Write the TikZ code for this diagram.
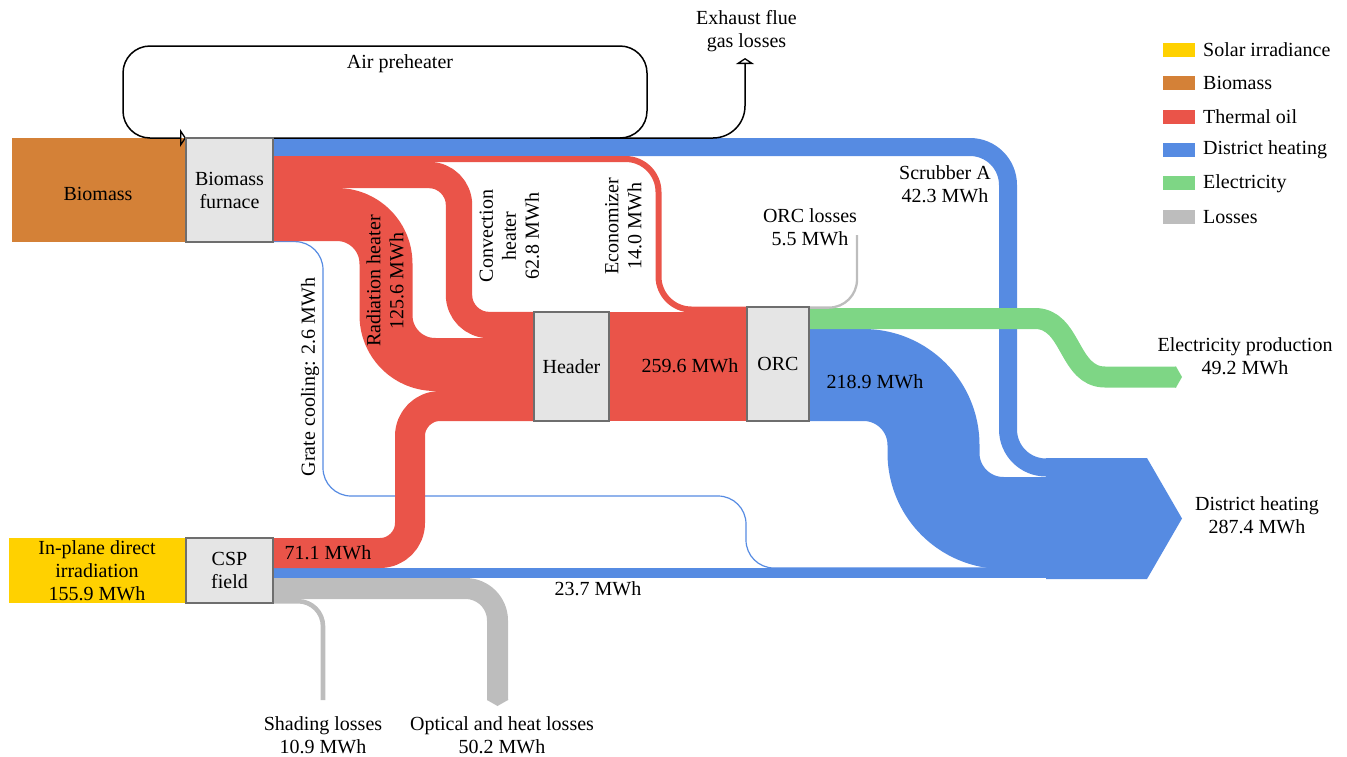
\documentclass[tikz,border=0pt]{standalone}
\usepackage{fontspec}
\setmainfont{Liberation Serif}
\usetikzlibrary{arrows.meta}
\newcommand\lblfont{\rmfamily\fontsize{20}{23}\selectfont}
\definecolor{cSolar}{HTML}{FFD100}
\definecolor{cBio}{HTML}{D48137}
\definecolor{cOil}{HTML}{EA5449}
\definecolor{cDH}{HTML}{568BE2}
\definecolor{cEl}{HTML}{7ED685}
\definecolor{cLoss}{HTML}{BDBDBD}
\definecolor{cBox}{HTML}{E5E5E5}
\definecolor{cBoxLine}{HTML}{6E6E6E}
\begin{document}
\begin{tikzpicture}[x=1pt,y=-1pt,
  every node/.style={font=\lblfont, inner sep=0pt, align=center},
  band/.style={line cap=butt, line join=round},
  procbox/.style={draw=cBoxLine, fill=cBox, line width=1.5pt},
  srcbox/.style={draw=none},
  flue/.style={draw=black, line width=1.5pt},
  opentip/.style={-{Triangle[open, length=6pt, width=18pt, line width=1.3pt]}},
  legsw/.style={minimum width=32pt, minimum height=14pt},
  legtx/.style={anchor=west}]
\useasboundingbox (0,0) rectangle (1347,756);

% ---------- source boxes ----------
\path (99,190) node[srcbox, fill=cBio, minimum width=174pt, minimum height=104pt] (bio) {};
\path (97.5,570.5) node[srcbox, fill=cSolar, minimum width=177pt, minimum height=65pt] (sun) {};

% ---------- named band end points ----------
\coordinate (fScr) at (273,147);    \coordinate (dScr) at (1062,467.5);
\coordinate (fEco) at (273,159);    \coordinate (oEco) at (747,309.5);
\coordinate (fCon) at (273,175);    \coordinate (hCon) at (534,325);
\coordinate (fRad) at (273,214.5);  \coordinate (hRad) at (534,364.5);
\coordinate (fGra) at (273,241.6);  \coordinate (dGra) at (1062,568);
\coordinate (cRed) at (273,553);    \coordinate (hCsp) at (534,406);
\coordinate (cBlu) at (273,573);    \coordinate (dBlu) at (1062,573);
\coordinate (cOpt) at (273,588.5);  \coordinate (eOpt) at (497.5,700);
\coordinate (cSha) at (273,601.2);  \coordinate (eSha) at (323,700);
\coordinate (hOut) at (609,366.5);  \coordinate (oIn) at (747,366.5);
\coordinate (oEl) at (809,318.5);   \coordinate (eEl) at (1176,377);
\coordinate (oDH) at (809,375);     \coordinate (dDH) at (1062,523);
\coordinate (oLos) at (809,307.6);  \coordinate (eLos) at (857,235);
\coordinate (fFlue) at (273,138);   \coordinate (eFlue) at (745,58);
\coordinate (aSplit) at (590,138);  \coordinate (fIn) at (186,138);

% ---------- losses (grey) ----------
\draw[band, cLoss, line width=21pt, rounded corners=32pt] (cOpt) -- (497.5,588.5) -- (eOpt);
\fill[cLoss] (487,699) -- (508,699) -- (508,700) -- (497.5,706) -- (487,700) -- cycle;
\draw[band, cLoss, line width=4.6pt, rounded corners=25pt] (cSha) -- (323,601.2) -- (eSha);

% ---------- district heating (blue) ----------
\draw[band, cDH, line width=1.2pt, rounded corners=28pt] (fGra) -- (323,241.6) -- (323,496) -- (746,496) -- (746,568) -- (dGra);
\draw[band, cDH, line width=10pt] (cBlu) -- (dBlu);
\draw[band, cDH, line width=92pt, rounded corners=70pt] (oDH) -- (933.5,375) -- (933.5,523) -- (dDH);
\fill[cDH] (1046,458) -- (1147,458) -- (1182,518.5) -- (1147,579) -- (1046,579) -- cycle;
\draw[band, cDH, line width=18pt, rounded corners=38pt] (fScr) -- (1008,147) -- (1008,467.5) -- (dScr);

% ---------- thermal oil (red) ----------
\draw[band, cOil, line width=53pt, rounded corners=49pt] (fRad) -- (386,214.5) -- (386,364.5) -- (hRad);
\draw[band, cOil, line width=26.4pt, rounded corners=30pt] (fCon) -- (459,175) -- (459,325) -- (hCon);
\draw[band, cOil, line width=6pt, rounded corners=33pt] (fEco) -- (658.5,159) -- (658.5,309.5) -- (oEco);
\draw[band, cOil, line width=30pt, rounded corners=30pt] (cRed) -- (410,553) -- (410,406) -- (hCsp);
\draw[band, cOil, line width=109pt] (hOut) -- (oIn);

% ---------- electricity (green) ----------
\draw[band, cEl, line width=21pt] (oEl) -- (1035,318.5) .. controls (1072,318.5) and (1068,377) .. (1105,377) -- (eEl);
\fill[cEl] (1175,366.5) -- (1176,366.5) -- (1182,377) -- (1176,387.5) -- (1175,387.5) -- cycle;

% ---------- ORC losses ----------
\draw[band, cLoss, line width=2.3pt, rounded corners=28pt] (oLos) -- (857,307.6) -- (eLos);

% ---------- flue gas / air preheater ----------
\draw[flue, opentip, rounded corners=32pt] (fFlue) -- (745,138) -- (eFlue);
\draw[flue, opentip, rounded corners=27pt] (aSplit) -- (647,138) -- (647,46) -- (123,46) -- (123,138) -- (fIn);

% ---------- process boxes ----------
\node[procbox, minimum width=87pt, minimum height=104pt] (furn) at (229.5,190) {Biomass\\furnace};
\node[procbox, minimum width=87pt, minimum height=65pt] (csp) at (229.5,570.5) {CSP\\field};
\node[procbox, minimum width=75pt, minimum height=109pt] (head) at (571.5,366.5) {Header};
\node[procbox, minimum width=62pt, minimum height=114pt] (orc) at (778,364) {ORC};

% ---------- labels ----------
\node (lBio) at (98,194) {Biomass};
\node (lSun) at (97,571) {In-plane direct\\irradiation\\155.9 MWh};
\node (lAir) at (400,64) {Air preheater};
\node (lExh) at (746.5,31.5) {Exhaust flue\\gas losses};
\node (lScr) at (945,184) {Scrubber A\\42.3 MWh};
\node (lOrcL) at (810,227) {ORC losses\\5.5 MWh};
\node[rotate=90] (lEco) at (623.5,226) {Economizer\\14.0 MWh};
\node[rotate=90] (lCon) at (509.5,236) {Convection\\heater\\62.8 MWh};
\node[rotate=90] (lRad) at (385,281) {Radiation heater\\125.6 MWh};
\node[rotate=90] (lGra) at (310,377) {Grate cooling: 2.6 MWh};
\node (lHO) at (690,366) {259.6 MWh};
\node (lDHo) at (875,382) {218.9 MWh};
\node (lEl) at (1245,356) {Electricity production\\49.2 MWh};
\node (lDH) at (1257,515) {District heating\\287.4 MWh};
\node (lCsp) at (328,553) {71.1 MWh};
\node (lBlu) at (598,589) {23.7 MWh};
\node (lSha) at (323,735) {Shading losses\\10.9 MWh};
\node (lOpt) at (502,735) {Optical and heat losses\\50.2 MWh};

% ---------- legend ----------
\node[legsw, fill=cSolar] (k1) at (1179,50) {};
\node[legtx] (t1) at (1203,50) {Solar irradiance};
\node[legsw, fill=cBio] (k2) at (1179,83.3) {};
\node[legtx] (t2) at (1203,83.3) {Biomass};
\node[legsw, fill=cOil] (k3) at (1179,116.6) {};
\node[legtx] (t3) at (1203,116.6) {Thermal oil};
\node[legsw, fill=cDH] (k4) at (1179,150) {};
\node[legtx] (t4) at (1203,150) {District heating};
\node[legsw, fill=cEl] (k5) at (1179,183.3) {};
\node[legtx] (t5) at (1203,183.3) {Electricity};
\node[legsw, fill=cLoss] (k6) at (1179,216.6) {};
\node[legtx] (t6) at (1203,216.6) {Losses};
\end{tikzpicture}
\end{document}
